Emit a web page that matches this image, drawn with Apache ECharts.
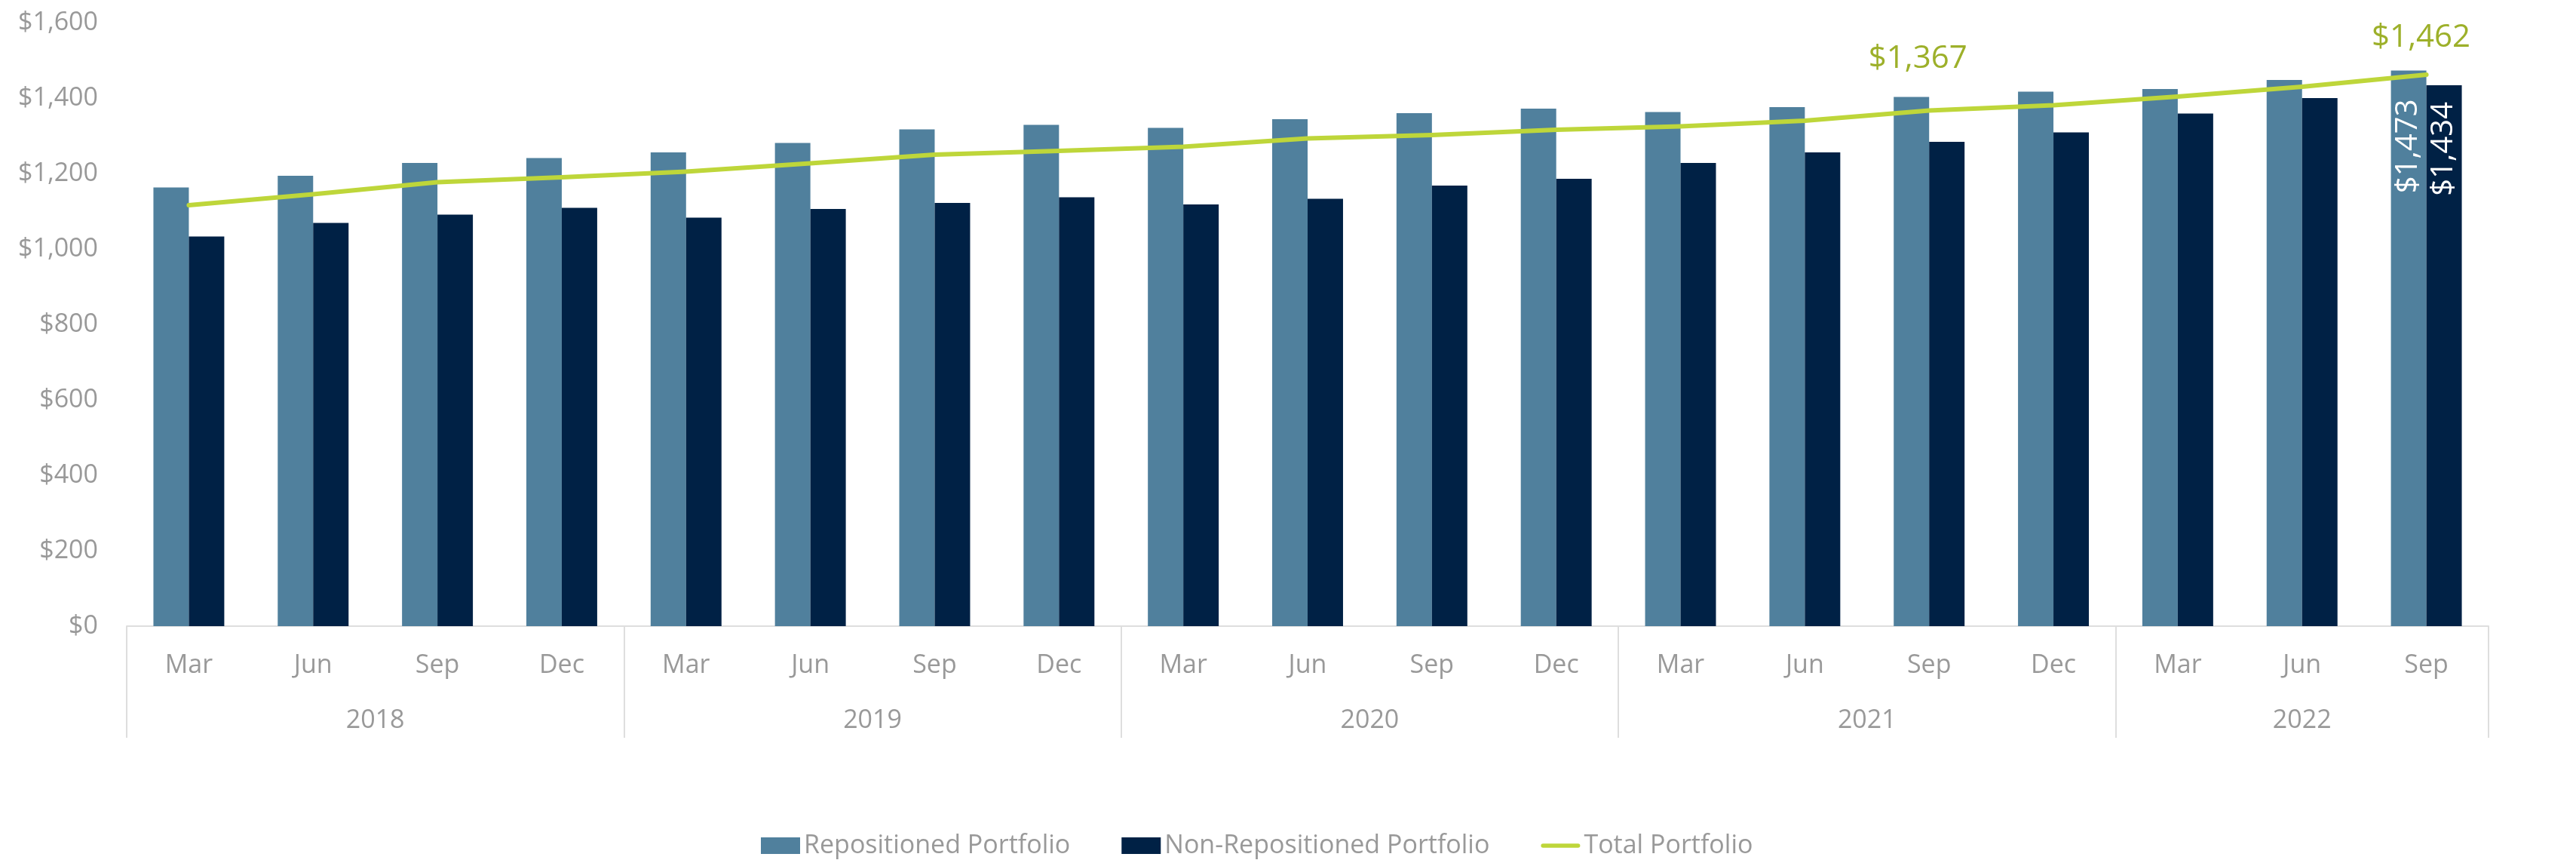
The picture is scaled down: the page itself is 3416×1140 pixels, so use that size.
<!DOCTYPE html>
<html>
<head>
<meta charset="utf-8">
<title>Portfolio</title>
<script src="https://cdn.jsdelivr.net/npm/echarts@6/dist/echarts.min.js"></script>
<style>
  html, body { margin: 0; padding: 0; background: #fff; }
  #main { width: 3416px; height: 1140px; }
</style>
</head>
<body>
<div id="main"></div>
<script>
// quarter labels and the year each quarter belongs to
const months = ['Mar', 'Jun', 'Sep', 'Dec', 'Mar', 'Jun', 'Sep', 'Dec', 'Mar', 'Jun', 'Sep', 'Dec',
  'Mar', 'Jun', 'Sep', 'Dec', 'Mar', 'Jun', 'Sep'];
const quarterYears = ['2018', '2018', '2018', '2018', '2019', '2019', '2019', '2019',
  '2020', '2020', '2020', '2020', '2021', '2021', '2021', '2021', '2022', '2022', '2022'];

const repositioned = [1163, 1194, 1228, 1241, 1256, 1281, 1317, 1329, 1321, 1344,
  1360, 1372, 1363, 1376, 1403, 1417, 1424, 1448, 1473];
const nonRepositioned = [1033, 1069, 1091, 1109, 1083, 1106, 1122, 1137, 1118, 1133,
  1168, 1186, 1228, 1256, 1284, 1309, 1359, 1400, 1434];
const totalPortfolio = [1116, 1145, 1177, 1190, 1205, 1227, 1250, 1260, 1271, 1293,
  1302, 1316, 1325, 1340, 1367, 1381, 1404, 1430, 1462];

// which points of the total line get a callout
const totalCallouts = [14, 18];

const yMin = 0, yMax = 1600, yStep = 200;

const grey = '#999999';
const lime = '#BED63A';
const font = 'Open Sans';

function money(v) {
  return '$' + Number(v).toLocaleString('en-US');
}

// year groups -> edges (for separators) and middles (for labels)
var yearNames = [], yearEdges = [];
quarterYears.forEach(function (y, i) {
  if (i === 0 || y !== quarterYears[i - 1]) {
    yearNames.push(y);
    yearEdges.push(i);
  }
});
yearEdges.push(quarterYears.length);
var yearMids = yearNames.map(function (y, k) {
  return (yearEdges[k] + yearEdges[k + 1]) / 2;
});

var last = months.length - 1;

var chart = echarts.init(document.getElementById('main'), null, { renderer: 'canvas' });

var option = {
  animation: false,
  textStyle: { fontFamily: font },
  grid: {
    left: 168,
    right: 116,
    top: 30,
    bottom: 310,
    containLabel: false,
    outerBoundsMode: 'none'
  },
  legend: {
    left: 1004,
    top: 1096,
    itemWidth: 52,
    itemHeight: 22,
    itemGap: 68,
    textStyle: { color: grey, fontSize: 34, fontFamily: font, lineHeight: 40 },
    data: [
      { name: 'Repositioned Portfolio', icon: 'rect' },
      { name: 'Non-Repositioned Portfolio', icon: 'rect' },
      { name: 'Total Portfolio', icon: 'path://M3,0 L53,0 A3,3 0 0 1 53,6 L3,6 A3,3 0 0 1 3,0 Z' }
    ]
  },
  xAxis: [
    {
      type: 'category',
      data: months,
      position: 'bottom',
      axisLine: { show: true, lineStyle: { color: '#dedede', width: 2 } },
      axisTick: { show: false },
      axisLabel: {
        interval: 0,
        color: grey,
        fontSize: 34,
        lineHeight: 40,
        margin: 32,
        fontFamily: font
      },
      splitLine: { show: false }
    },
    {
      // year row: separators and group labels
      type: 'value',
      position: 'bottom',
      min: 0,
      max: months.length,
      axisLine: { show: false },
      axisTick: {
        show: true,
        inside: false,
        length: 148,
        customValues: yearEdges,
        lineStyle: { color: '#dedede', width: 2 }
      },
      axisLabel: {
        show: true,
        customValues: yearMids,
        color: grey,
        fontSize: 34,
        lineHeight: 40,
        margin: 105,
        fontFamily: font,
        formatter: function (v) {
          var k = yearMids.indexOf(v);
          return k >= 0 ? yearNames[k] : '';
        }
      },
      splitLine: { show: false }
    }
  ],
  yAxis: {
    type: 'value',
    min: yMin,
    max: yMax,
    interval: yStep,
    axisLine: { show: false },
    axisTick: { show: false },
    splitLine: { show: false },
    axisLabel: {
      color: grey,
      fontSize: 34,
      margin: 38,
      fontFamily: font,
      formatter: money
    }
  },
  series: [
    {
      name: 'Repositioned Portfolio',
      type: 'bar',
      xAxisIndex: 0,
      barGap: '0%',
      barCategoryGap: '43%',
      itemStyle: { color: '#50809D' },
      label: {
        show: false,
        position: 'insideTop',
        rotate: 90,
        align: 'right',
        verticalAlign: 'middle',
        color: '#ffffff',
        fontSize: 40,
        fontFamily: font,
        formatter: function (p) { return money(p.value); }
      },
      data: repositioned.map(function (v, i) {
        return i === last ? { value: v, label: { show: true, distance: 38 } } : v;
      })
    },
    {
      name: 'Non-Repositioned Portfolio',
      type: 'bar',
      xAxisIndex: 0,
      barGap: '0%',
      barCategoryGap: '43%',
      itemStyle: { color: '#002145' },
      label: {
        show: false,
        position: 'insideTop',
        rotate: 90,
        align: 'right',
        verticalAlign: 'middle',
        color: '#ffffff',
        fontSize: 40,
        fontFamily: font,
        formatter: function (p) { return money(p.value); }
      },
      data: nonRepositioned.map(function (v, i) {
        return i === last ? { value: v, label: { show: true, distance: 22 } } : v;
      })
    },
    {
      name: 'Total Portfolio',
      type: 'line',
      xAxisIndex: 0,
      z: 5,
      symbol: 'circle',
      symbolSize: 2,
      showSymbol: true,
      smooth: false,
      itemStyle: { color: lime },
      lineStyle: { color: lime, width: 6, cap: 'round', join: 'round' },
      label: {
        show: false,
        position: 'top',
        color: '#9DB02A',
        fontSize: 42,
        lineHeight: 44,
        fontFamily: font,
        formatter: function (p) { return money(p.value); }
      },
      data: totalPortfolio.map(function (v, i) {
        if (totalCallouts.indexOf(i) < 0) return v;
        var near = i === last;
        return {
          value: v,
          label: { show: true, distance: near ? 26 : 45, offset: [near ? -7 : -15, 0] }
        };
      })
    }
  ]
};

chart.setOption(option);
</script>
</body>
</html>
